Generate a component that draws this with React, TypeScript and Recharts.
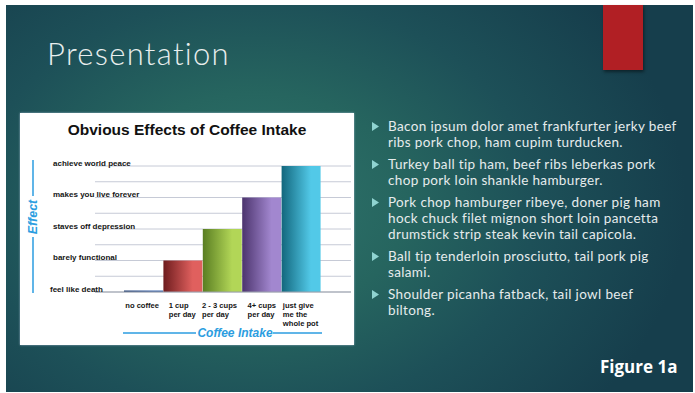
import { BarChart, Bar, XAxis, YAxis, CartesianGrid, Cell, Label } from "recharts"

// chart data
const intakeLevels = ["no coffee", "1 cup\nper day", "2 - 3 cups\nper day", "4+ cups\nper day", "just give\nme the\nwhole pot"]
const effectScores = [0.1, 2, 4, 6, 8]
const effectTicks = [0, 1, 2, 3, 4, 5, 6, 7, 8]
const effectNames: Record<number, string> = {
  0: "feel like death",
  2: "barely functional",
  4: "staves off depression",
  6: "makes you live forever",
  8: "achieve world peace",
}
const barShades = [
  ["#1c3a70", "#3d66ab"],
  ["#6e1c1e", "#e0605e"],
  ["#5a7e22", "#b2d657"],
  ["#4c346e", "#a287cf"],
  ["#12677d", "#52c9e8"],
]

// slide text
const bulletLines = [
  ["Bacon ipsum dolor amet frankfurter jerky beef", "ribs pork chop, ham cupim turducken."],
  ["Turkey ball tip ham, beef ribs leberkas pork", "chop pork loin shankle hamburger."],
  ["Pork chop hamburger ribeye, doner pig ham", "hock chuck filet mignon short loin pancetta", "drumstick strip steak kevin tail capicola."],
  ["Ball tip tenderloin prosciutto, tail pork pig", "salami."],
  ["Shoulder picanha fatback, tail jowl beef", "biltong."],
]

const data = intakeLevels.map((level, i) => ({ level, score: effectScores[i] }))

const arial = "'Liberation Sans', Arial, sans-serif"
const blue = "#2b9de0"

const EffectTick = (props: any) => {
  const { y, payload } = props
  const name = effectNames[payload.value]
  if (!name) return <g />
  return (
    <text x={payload.value === 0 ? 30 : 33} y={y - 0.5} fontSize={8} fontWeight="bold" fill="#151515" fontFamily={arial}>
      {name}
    </text>
  )
}

// multi-line label, lines left aligned, block roughly centred under the bar
const IntakeTick = (props: any) => {
  const { x, y, payload } = props
  const lines = String(payload.value).split("\n")
  const widest = Math.max(...lines.map((l) => l.length))
  const left = x - (widest * 4.1) / 2
  return (
    <text x={left} y={y + 8} fontSize={7.6} fontWeight="bold" fill="#151515" fontFamily={arial}>
      {lines.map((l, i) => (
        <tspan key={i} x={left} dy={i === 0 ? 0 : 9}>
          {l}
        </tspan>
      ))}
    </text>
  )
}

function EffectChart() {
  return (
    <BarChart width={334} height={232} data={data} barCategoryGap={0} margin={{ top: 53, right: 3, left: 0, bottom: 0 }}>
      <defs>
        {barShades.map(([a, b], i) => (
          <linearGradient key={i} id={`shade${i}`} x1="0" y1="0" x2="1" y2="0">
            <stop offset="0%" stopColor={a} />
            <stop offset="75%" stopColor={b} />
            <stop offset="100%" stopColor={b} />
          </linearGradient>
        ))}
      </defs>
      <CartesianGrid vertical={false} stroke="#c6cad6" />
      <XAxis
        dataKey="level"
        height={53}
        padding={{ left: 29, right: 30 }}
        tickLine={false}
        axisLine={{ stroke: "#9ba1ab" }}
        tick={<IntakeTick />}
        interval={0}
      >
        <Label
          content={() => (
            <g>
              <line x1={103} x2={176} y1={220} y2={220} stroke={blue} strokeWidth={1.5} />
              <line x1={253} x2={302} y1={220} y2={220} stroke={blue} strokeWidth={1.5} />
              <text x={215} y={220} textAnchor="middle" dominantBaseline="central" fontSize={12} fontWeight="bold" fontStyle="italic" fill={blue} fontFamily={arial}>
                Coffee Intake
              </text>
            </g>
          )}
        />
      </XAxis>
      <YAxis width={75} domain={[0, 8]} ticks={effectTicks} interval={0} axisLine={false} tickLine={false} tick={<EffectTick />}>
        <Label
          content={() => (
            <g>
              <line x1={13} x2={13} y1={47} y2={83} stroke={blue} strokeWidth={1.5} />
              <line x1={13} x2={13} y1={124} y2={180} stroke={blue} strokeWidth={1.5} />
              <text x={13} y={104} transform="rotate(-90 13 104)" textAnchor="middle" dominantBaseline="central" fontSize={12.5} fontWeight="bold" fontStyle="italic" fill={blue} fontFamily={arial}>
                Effect
              </text>
            </g>
          )}
        />
      </YAxis>
      <Bar dataKey="score" isAnimationActive={false}>
        {data.map((_, i) => (
          <Cell key={i} fill={`url(#shade${i})`} />
        ))}
      </Bar>
    </BarChart>
  )
}

export default function App() {
  return (
    <div style={{ position: "absolute", left: 0, top: 0, width: 695, height: 393, background: "#fff", overflow: "hidden" }}>
      <div
        style={{
          position: "absolute",
          left: 6,
          top: 5,
          width: 687,
          height: 387,
          background:
            "radial-gradient(ellipse 430px 320px at 250px 200px, #2f746c 0%, #26655f 35%, #1d5058 65%, #163e4c 100%)",
        }}
      />
      <div
        style={{
          position: "absolute",
          left: 47,
          top: 36,
          fontFamily: "Lato, 'Open Sans', sans-serif",
          fontWeight: 300,
          fontSize: 31,
          letterSpacing: 1.3,
          fontVariantLigatures: "none",
          lineHeight: "34px",
          color: "#e8eeee",
        }}
      >
        Presentation
      </div>
      <div style={{ position: "absolute", left: 603, top: 5, width: 40, height: 65, background: "#b11f24", boxShadow: "1px 2px 3px rgba(0,0,0,0.45)" }} />

      <div style={{ position: "absolute", left: 20, top: 113, width: 334, height: 232, background: "#fff", boxShadow: "0 0 2px rgba(180,200,220,0.8)" }}>
        <div
          style={{
            position: "absolute",
            left: 0,
            top: 8,
            width: 334,
            textAlign: "center",
            fontFamily: arial,
            fontWeight: "bold",
            fontSize: 15.5,
            lineHeight: "18px",
            color: "#111",
          }}
        >
          Obvious Effects of Coffee Intake
        </div>
        <EffectChart />
      </div>

      <div
        style={{
          position: "absolute",
          left: 370,
          top: 118,
          fontFamily: "Lato, 'Open Sans', sans-serif",
          fontSize: 13.5,
          letterSpacing: 0.35,
          fontVariantLigatures: "none",
          color: "#e6eced",
        }}
      >
        {bulletLines.map((lines, i) => (
          <div key={i} style={{ position: "relative", paddingLeft: 18, marginBottom: 6 }}>
            <svg width={8} height={9} style={{ position: "absolute", left: 2, top: 4 }}>
              <polygon points="0,0 7,4.5 0,9" fill="#8fd3d0" />
            </svg>
            {lines.map((l, j) => (
              <div key={j} style={{ lineHeight: "16px", whiteSpace: "nowrap" }}>
                {l}
              </div>
            ))}
          </div>
        ))}
      </div>

      <div
        style={{
          position: "absolute",
          left: 600,
          top: 356,
          fontFamily: "'Open Sans', 'Noto Sans', sans-serif",
          fontWeight: "bold",
          fontSize: 17,
          lineHeight: "22px",
          color: "#fff",
        }}
      >
        Figure 1a
      </div>
    </div>
  )
}
